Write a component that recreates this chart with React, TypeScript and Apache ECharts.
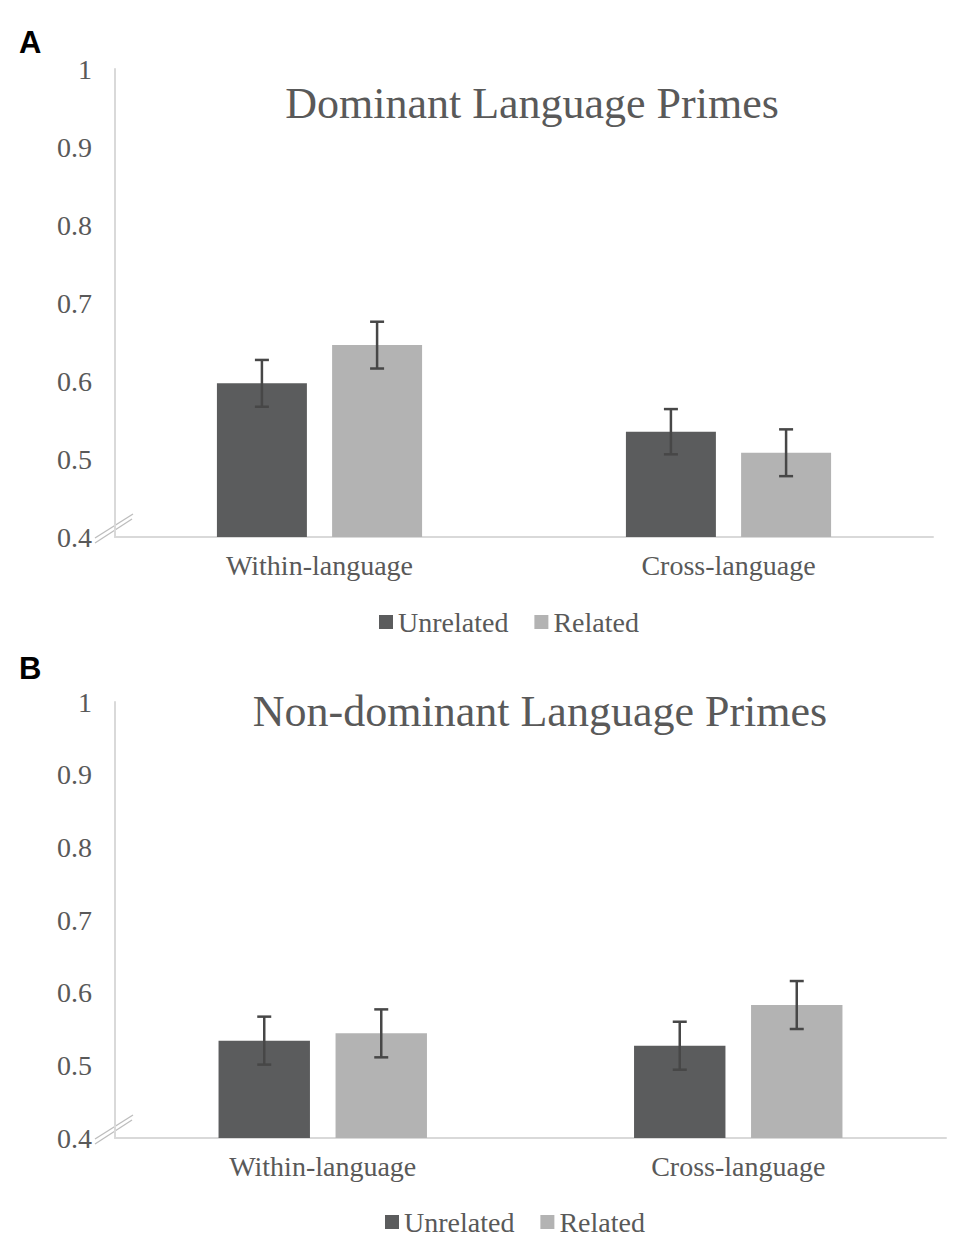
import React, { useEffect, useRef } from 'react';
import * as echarts from 'echarts';

const categories = ['Within-language', 'Cross-language'];
const seriesNames = ['Unrelated', 'Related'];
const panelTitles = ['Dominant Language Primes', 'Non-dominant Language Primes'];
const panelLetters = ['A', 'B'];

const domUnrelated = [0.597, 0.535];
const domRelated = [0.646, 0.508];
const domUnrelatedErr = [0.030, 0.029];
const domRelatedErr = [0.030, 0.030];

const nonUnrelated = [0.534, 0.527];
const nonRelated = [0.544, 0.583];
const nonUnrelatedErr = [0.033, 0.033];
const nonRelatedErr = [0.033, 0.033];

const DARK = '#5b5c5d';
const LIGHT = '#b3b3b3';
const TEXT = '#595959';
const AXIS = '#d9d9d9';
const ERR = '#474747';
const SERIF = '"Times New Roman", "Liberation Serif", serif';

const BAR_W = 0.22;
const BAR_GAP = 0.28;
const OFFSET = (BAR_W + BAR_W * BAR_GAP) / 2;

function errSeries(vals: number[], errs: number[], gi: number, side: number) {
  return {
    type: 'custom',
    name: 'err' + gi + side,
    xAxisIndex: gi,
    yAxisIndex: gi,
    silent: true,
    z: 10,
    encode: { x: 0, y: [1, 2] },
    data: vals.map((v, i) => [i, v - errs[i], v + errs[i]]),
    renderItem: (params: any, api: any) => {
      const c = api.value(0);
      const lo = api.coord([c, api.value(1)]);
      const hi = api.coord([c, api.value(2)]);
      const band = api.size([1, 0])[0];
      const x = lo[0] + side * OFFSET * band;
      const cap = 7;
      const style = { stroke: ERR, lineWidth: 2.5 };
      return {
        type: 'group',
        children: [
          { type: 'line', shape: { x1: x, y1: hi[1], x2: x, y2: lo[1] }, style },
          { type: 'line', shape: { x1: x - cap, y1: hi[1], x2: x + cap, y2: hi[1] }, style },
          { type: 'line', shape: { x1: x - cap, y1: lo[1], x2: x + cap, y2: lo[1] }, style },
        ],
      };
    },
  };
}

function barSeries(name: string, vals: number[], gi: number, color: string) {
  return {
    type: 'bar',
    name,
    xAxisIndex: gi,
    yAxisIndex: gi,
    data: vals,
    barWidth: BAR_W * 100 + '%',
    barGap: BAR_GAP * 100 + '%',
    itemStyle: { color },
  };
}

const grids = [
  { left: 115, top: 69, width: 818, height: 468 },
  { left: 115, top: 702, width: 831, height: 436 },
];

export default function App() {
  const ref = useRef<HTMLDivElement>(null);
  useEffect(() => {
    document.body.style.margin = '0';
    const chart = echarts.init(ref.current!, undefined, { renderer: 'svg' });
    const xAxes = grids.map((_, i) => ({
      type: 'category',
      gridIndex: i,
      data: categories,
      axisLine: { show: true, lineStyle: { color: AXIS, width: 2 } },
      axisTick: { show: false },
      axisLabel: { fontSize: 28, fontFamily: SERIF, color: TEXT, margin: 14 },
    }));
    const yAxes = grids.map((_, i) => ({
      type: 'value',
      gridIndex: i,
      min: 0.4,
      max: 1,
      interval: 0.1,
      axisLine: { show: true, lineStyle: { color: AXIS, width: 2 } },
      axisTick: { show: false },
      splitLine: { show: false },
      axisLabel: {
        fontSize: 28,
        fontFamily: SERIF,
        color: TEXT,
        margin: 23,
        formatter: (v: number) => String(Math.round(v * 10) / 10),
      },
    }));
    const breakMarks = grids.flatMap((g) => {
      const by = g.top + g.height;
      const lx = g.left;
      return [
        { type: 'line', shape: { x1: lx - 20, y1: by + 1, x2: lx + 18, y2: by - 23 }, style: { stroke: '#bdbdbd', lineWidth: 1.3 } },
        { type: 'line', shape: { x1: lx - 20, y1: by + 6, x2: lx + 17, y2: by - 18 }, style: { stroke: '#bdbdbd', lineWidth: 1.3 } },
      ];
    });
    const titleTexts = [
      { x: 532, y: 103 },
      { x: 540, y: 711 },
    ].map((p, i) => ({
      type: 'text',
      x: p.x,
      y: p.y,
      style: { text: panelTitles[i], fontSize: 44, fontFamily: SERIF, fill: TEXT, align: 'center', verticalAlign: 'middle' },
    }));
    const letterTexts = [
      { x: 19, y: 42 },
      { x: 19, y: 668 },
    ].map((p, i) => ({
      type: 'text',
      x: p.x,
      y: p.y,
      style: { text: panelLetters[i], fontSize: 31, fontWeight: 'bold', fontFamily: '"Liberation Sans", Arial, sans-serif', fill: '#000', align: 'left', verticalAlign: 'middle' },
    }));
    const legendBase = {
      data: seriesNames,
      icon: 'rect',
      itemWidth: 14,
      itemHeight: 14,
      itemGap: 26,
      textStyle: { fontSize: 28, fontFamily: SERIF, color: TEXT },
    };
    chart.setOption({
      animation: false,
      backgroundColor: '#fff',
      grid: grids,
      xAxis: xAxes,
      yAxis: yAxes,
      legend: [
        { ...legendBase, left: 374, top: 603 },
        { ...legendBase, left: 380, top: 1203 },
      ],
      graphic: [...titleTexts, ...letterTexts, ...breakMarks],
      series: [
        barSeries(seriesNames[0], domUnrelated, 0, DARK),
        barSeries(seriesNames[1], domRelated, 0, LIGHT),
        barSeries(seriesNames[0], nonUnrelated, 1, DARK),
        barSeries(seriesNames[1], nonRelated, 1, LIGHT),
        errSeries(domUnrelated, domUnrelatedErr, 0, -1),
        errSeries(domRelated, domRelatedErr, 0, 1),
        errSeries(nonUnrelated, nonUnrelatedErr, 1, -1),
        errSeries(nonRelated, nonRelatedErr, 1, 1),
      ],
    });
    return () => chart.dispose();
  }, []);
  return <div ref={ref} style={{ width: 975, height: 1258 }} />;
}
